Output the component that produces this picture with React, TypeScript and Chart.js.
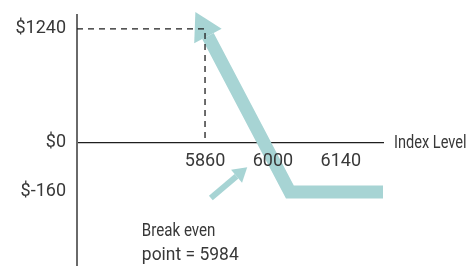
import React, { useEffect, useRef } from 'react';
import { Chart, registerables, LinearScale } from 'chart.js';

// ---- data ----
const X_TICKS = [5860, 6000, 6140];
const Y_TICKS = [-160, 0, 1240];
const Y_TICK_LABELS = ['$-160', '$0', '$1240'];
const PAYOFF_INDEX = [5866, 6035, 6227];
const PAYOFF_VALUE = [1164, -160, -160];
const GUIDE_INDEX = [5596, 5860, 5860];
const GUIDE_VALUE = [1240, 1240, 0];
const POINTER_INDEX = [5925, 5872];
const POINTER_VALUE = [-109, -180];
const AXIS_TITLE = 'Index Level';
const NOTE_LINES = ['Break even', 'point = 5984'];

const X_MIN = 5596;
const X_MAX = 6227;
const Y_MIN = -402;
const Y_MAX = 1392;
const BELOW_ZERO_STRETCH = 3.33; // schematic axis: negative side drawn larger

const TEAL = '#a7d4d4';
const TEXT = '#383838';
const FONT = 'Roboto, "Noto Sans", sans-serif';

class PiecewiseLinearScale extends LinearScale {
  static id = 'piecewiseLinear';
  static defaults = { ...(LinearScale as any).defaults };
  warp(v: number) {
    return v < 0 ? v * BELOW_ZERO_STRETCH : v;
  }
  getPixelForValue(value: number) {
    if (value === null || value === undefined || isNaN(value)) return NaN;
    const a = this.warp((this as any).min);
    const b = this.warp((this as any).max);
    return this.getPixelForDecimal((this.warp(value) - a) / (b - a));
  }
  getValueForPixel(pixel: number) {
    const a = this.warp((this as any).min);
    const b = this.warp((this as any).max);
    const u = a + this.getDecimalForPixel(pixel) * (b - a);
    return u < 0 ? u / BELOW_ZERO_STRETCH : u;
  }
}

Chart.register(...registerables, PiecewiseLinearScale as any);

const arrowHeadPlugin = {
  id: 'arrowHead',
  afterDatasetDraw(chart: any, args: any) {
    const ds = chart.data.datasets[args.index];
    if (!ds.arrowHead) return;
    const pts = args.meta.data;
    if (pts.length < 2) return;
    const p0 = pts[0];
    const p1 = pts[1];
    let dx = p0.x - p1.x;
    let dy = p0.y - p1.y;
    const len = Math.hypot(dx, dy) || 1;
    dx /= len;
    dy /= len;
    const { length, width } = ds.arrowHead;
    const ctx = chart.ctx;
    ctx.save();
    ctx.fillStyle = ds.borderColor;
    ctx.beginPath();
    ctx.moveTo(p0.x + dx * length, p0.y + dy * length);
    ctx.lineTo(p0.x - dy * width / 2, p0.y + dx * width / 2);
    ctx.lineTo(p0.x + dy * width / 2, p0.y - dx * width / 2);
    ctx.closePath();
    ctx.fill();
    ctx.restore();
  },
};

function drawCondensed(ctx: CanvasRenderingContext2D, text: string, x: number, y: number, sx: number) {
  ctx.save();
  ctx.translate(x, y);
  ctx.scale(sx, 1);
  ctx.fillText(text, 0, 0);
  ctx.restore();
}

const textPlugin = {
  id: 'texts',
  afterDraw(chart: any) {
    const ctx = chart.ctx;
    const { chartArea } = chart;
    const yScale = chart.scales.y;
    ctx.save();
    ctx.fillStyle = TEXT;
    ctx.font = `18px ${FONT}`;
    ctx.textAlign = 'left';
    ctx.textBaseline = 'middle';
    drawCondensed(ctx, AXIS_TITLE, chartArea.right + 11, yScale.getPixelForValue(0) + 1, 0.81);
    const ptrMeta = chart.getDatasetMeta(2);
    const tail = ptrMeta.data[ptrMeta.data.length - 1];
    ctx.textBaseline = 'alphabetic';
    drawCondensed(ctx, NOTE_LINES[0], tail.x - 69, tail.y + 38, 0.84);
    drawCondensed(ctx, NOTE_LINES[1], tail.x - 69, tail.y + 62, 0.97);
    ctx.restore();
  },
};

export default function App() {
  const ref = useRef<HTMLCanvasElement>(null);
  useEffect(() => {
    const toPts = (xs: number[], ys: number[]) => xs.map((x, i) => ({ x, y: ys[i] }));
    const chart = new Chart(ref.current as HTMLCanvasElement, {
      type: 'line',
      data: {
        datasets: [
          {
            label: 'guide',
            data: toPts(GUIDE_INDEX, GUIDE_VALUE),
            borderColor: '#1e1e1e',
            borderWidth: 1.3,
            borderDash: [6, 5],
            pointRadius: 0,
            fill: false,
            clip: false,
          } as any,
          {
            label: 'payoff',
            data: toPts(PAYOFF_INDEX, PAYOFF_VALUE),
            borderColor: TEAL,
            borderWidth: 13,
            borderJoinStyle: 'miter',
            borderCapStyle: 'butt',
            pointRadius: 0,
            fill: false,
            clip: false,
            arrowHead: { length: 27, width: 31 },
          } as any,
          {
            label: 'pointer',
            data: toPts(POINTER_INDEX, POINTER_VALUE),
            borderColor: TEAL,
            borderWidth: 6,
            borderCapStyle: 'butt',
            pointRadius: 0,
            fill: false,
            clip: false,
            arrowHead: { length: 14, width: 17 },
          } as any,
        ],
      },
      options: {
        animation: false,
        responsive: false,
        devicePixelRatio: 1,
        events: [],
        layout: { padding: { top: 15, right: 90, bottom: 0, left: 0 } },
        plugins: { legend: { display: false }, tooltip: { enabled: false } },
        scales: {
          x: {
            type: 'linear',
            min: X_MIN,
            max: X_MAX,
            position: { y: 0 } as any,
            grid: { display: false, drawTicks: false },
            border: { display: true, color: '#1e1e1e', width: 1.2, z: 0 },
            afterBuildTicks: (s: any) => {
              s.ticks = X_TICKS.map((value) => ({ value }));
            },
            afterFit: (s: any) => {
              s.height = 0;
              s.paddingLeft = 0;
              s.paddingRight = 0;
              s.paddingTop = 0;
              s.paddingBottom = 0;
            },
            ticks: {
              z: 1,
              autoSkip: false,
              maxRotation: 0,
              padding: 8,
              color: TEXT,
              font: { family: FONT, size: 18 },
              callback: (v: any) => String(v),
            },
          } as any,
          y: {
            type: 'piecewiseLinear' as any,
            min: Y_MIN,
            max: Y_MAX,
            position: 'left',
            grid: { display: false, drawTicks: false },
            border: { display: true, color: '#6a6a6a', width: 2 },
            afterBuildTicks: (s: any) => {
              s.ticks = Y_TICKS.map((value) => ({ value }));
            },
            afterFit: (s: any) => {
              s.width = 77;
              s.paddingTop = 0;
              s.paddingBottom = 0;
              s.paddingLeft = 0;
              s.paddingRight = 0;
            },
            ticks: {
              autoSkip: false,
              padding: 11,
              color: TEXT,
              font: { family: FONT, size: 18 },
              callback: (v: any) => Y_TICK_LABELS[Y_TICKS.indexOf(Number(v))],
            },
          } as any,
        },
      },
      plugins: [arrowHeadPlugin, textPlugin],
    } as any);
    return () => chart.destroy();
  }, []);
  return (
    <div style={{ position: 'fixed', left: 0, top: 0, width: 473, height: 266, background: '#fff' }}>
      <canvas ref={ref} width={473} height={266} style={{ display: 'block', width: 473, height: 266 }} />
    </div>
  );
}
